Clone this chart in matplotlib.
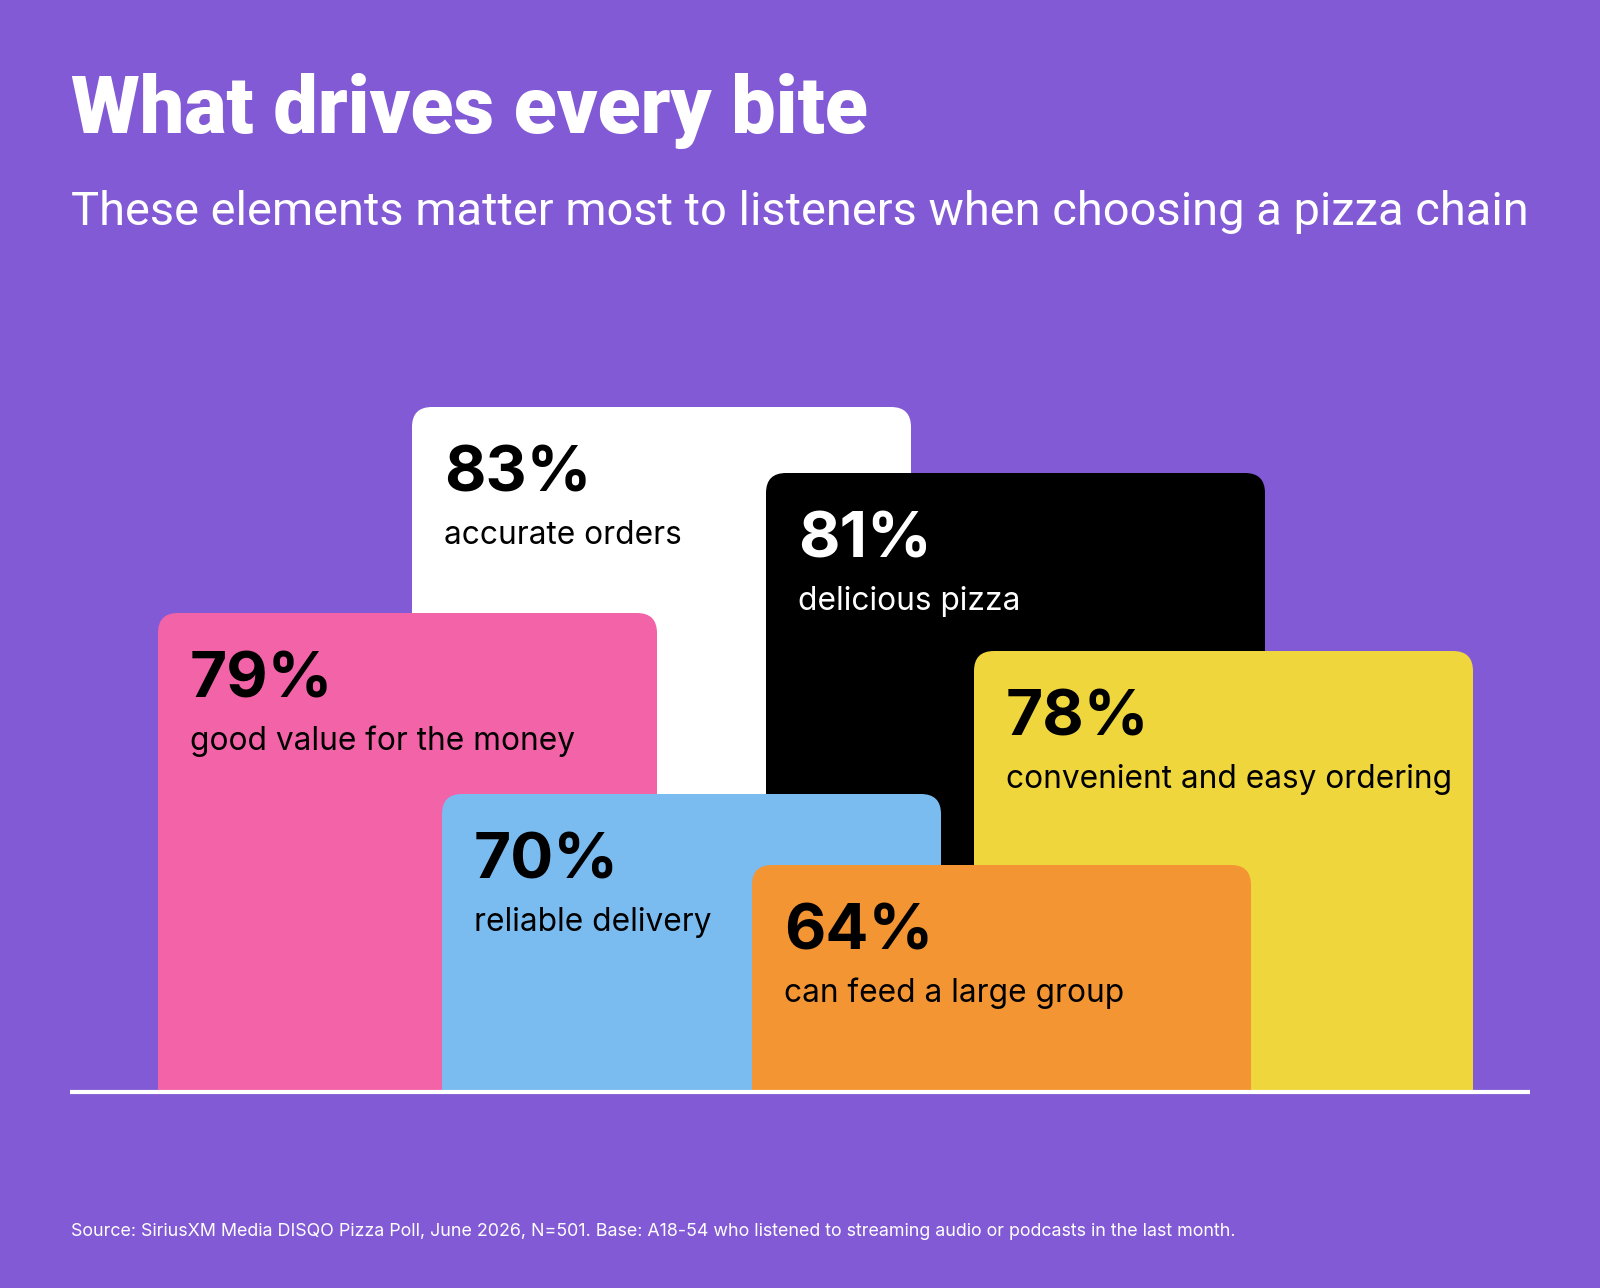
"""Overlapping card chart: what drives pizza chain choice."""

import matplotlib.pyplot as plt
from matplotlib.patches import FancyBboxPatch, Rectangle

# data
labels = [
    "accurate orders",
    "delicious pizza",
    "good value for the money",
    "convenient and easy ordering",
    "reliable delivery",
    "can feed a large group",
]
values = [83, 81, 79, 78, 70, 64]

# card layout (pixels, drawn back to front)
card_left = [412, 766, 158, 974, 442, 752]
card_top = [407, 473, 613, 651, 794, 865]
card_fill = ["#ffffff", "#000000", "#f263a8", "#efd63c", "#7bbcf0", "#f49534"]
card_text = ["#000000", "#ffffff", "#000000", "#000000", "#000000", "#000000"]
CARD_W = 499
BASE_Y = 1092
BG = "#825ad5"

plt.rcParams["font.family"] = ["Inter", "DejaVu Sans"]

W, H = 1600, 1288
fig = plt.figure(figsize=(W / 100, H / 100), dpi=100, facecolor=BG)
ax = fig.add_axes([0, 0, 1, 1])
ax.set_xlim(0, W)
ax.set_ylim(H, 0)
ax.set_facecolor(BG)
ax.axis("off")

clip = Rectangle((0, 0), W, BASE_Y, transform=ax.transData, visible=False)
ax.add_patch(clip)

for i, (lab, val) in enumerate(zip(labels, values)):
    x0, top = card_left[i], card_top[i]
    box = FancyBboxPatch(
        (x0, top), CARD_W, BASE_Y - top + 40,
        boxstyle="round,pad=0,rounding_size=20",
        facecolor=card_fill[i], edgecolor="none", zorder=2 + i,
    )
    ax.add_patch(box)
    box.set_clip_path(clip)
    ax.text(x0 + 32, top + 84, f"{val}%", fontsize=46, fontweight="bold",
            color=card_text[i], va="baseline", ha="left", zorder=2 + i)
    ax.text(x0 + 32, top + 137, lab, fontsize=22.8, color=card_text[i],
            va="baseline", ha="left", zorder=2 + i)

ax.plot([70, 1530], [BASE_Y, BASE_Y], color="white", lw=3, zorder=20,
        solid_capstyle="butt")

ax.text(71, 133, "What drives every bite", fontsize=57, fontweight=900,
        family=["Roboto", "DejaVu Sans"], color="white", va="baseline", ha="left")
ax.text(71, 225, "These elements matter most to listeners when choosing a pizza chain",
        fontsize=33.8, family=["Roboto", "DejaVu Sans"], color="white",
        va="baseline", ha="left")
ax.text(71, 1236,
        "Source: SiriusXM Media DISQO Pizza Poll, June 2026, N=501. Base: A18-54 who "
        "listened to streaming audio or podcasts in the last month.",
        fontsize=12.85, color="white", va="baseline", ha="left")

fig.savefig("out.png", dpi=100, facecolor=BG)
